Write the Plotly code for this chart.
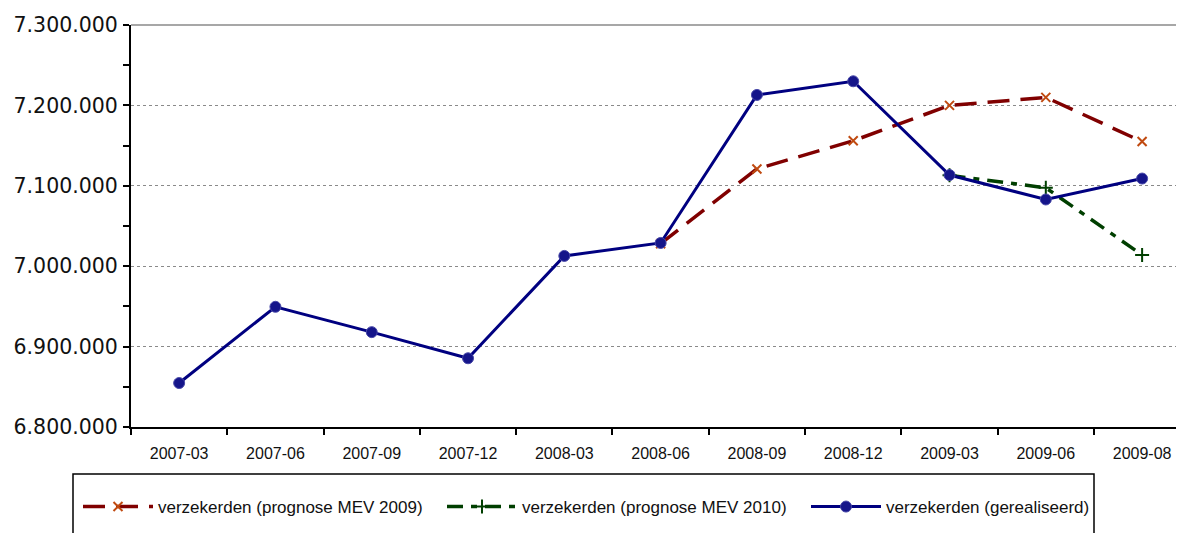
import plotly.graph_objects as go

categories = ["2007-03", "2007-06", "2007-09", "2007-12", "2008-03", "2008-06",
              "2008-09", "2008-12", "2009-03", "2009-06", "2009-08"]
mev2009 = [None, None, None, None, None, 7028000, 7121000, 7156000, 7200000, 7210000, 7155000]
mev2010 = [None, None, None, None, None, None, None, None, 7113000, 7097500, 7014000]
realized = [6854700, 6949500, 6918000, 6885500, 7012800, 7028900, 7213000, 7230000, 7113400, 7083000, 7109000]

names = ["verzekerden (prognose MEV 2009)", "verzekerden (prognose MEV 2010)", "verzekerden (gerealiseerd)"]

OFF = 8  # page body margin
W, H = 1184 - OFF, 533 - OFF
L, R, T = 131 - OFF, 0, 25 - OFF
B = H - (427 - OFF)
PW, PH = W - L - R, H - T - B

def px_x(p):
    return (p - OFF - L) / PW

def px_y(p):
    return (H - B - (p - OFF)) / PH

fig = go.Figure()
fig.add_trace(go.Scatter(
    x=categories, y=mev2009, name=names[0], mode="lines+markers",
    line=dict(color="#800000", width=3.5, dash="22px,11px"),
    marker=dict(symbol="x-thin", size=9, color="#c04a10", line=dict(color="#c04a10", width=2)),
    connectgaps=False))
fig.add_trace(go.Scatter(
    x=categories, y=mev2010, name=names[1], mode="lines+markers",
    line=dict(color="#003f00", width=3.5, dash="16px,8px,6px,8px"),
    marker=dict(symbol="cross-thin", size=10, color="#003f00", line=dict(color="#003f00", width=2)),
    connectgaps=False))
fig.add_trace(go.Scatter(
    x=categories, y=realized, name=names[2], mode="lines+markers",
    line=dict(color="#000080", width=3),
    marker=dict(symbol="circle", size=11, color="#15158a", line=dict(color="#4848a8", width=1))))

# top gridline
fig.add_shape(type="line", xref="paper", yref="paper", x0=0, x1=1, y0=1, y1=1,
              line=dict(color="#8a8a8a", width=1.5), layer="below")
# legend frame
fig.add_shape(type="rect", xref="paper", yref="paper",
              x0=px_x(73), x1=px_x(1094), y0=px_y(474), y1=px_y(560),
              line=dict(color="black", width=1.5), fillcolor="white", layer="below")

fig.update_layout(
    width=W, height=H,
    margin=dict(l=L, r=R, t=T, b=B, autoexpand=False),
    paper_bgcolor="white", plot_bgcolor="white",
    separators=",.",
    showlegend=True,
    legend=dict(orientation="h", x=px_x(78), y=px_y(489), xanchor="left", yanchor="top",
                font=dict(family="Liberation Sans", size=17, color="#111"),
                itemwidth=70, entrywidth=279, entrywidthmode="pixels",
                bgcolor="rgba(0,0,0,0)", borderwidth=0, tracegroupgap=0),
    xaxis=dict(type="category", range=[-0.5, 10.435], tickson="boundaries",
               showline=True, linecolor="black", linewidth=2,
               ticks="outside", ticklen=6, tickcolor="black", tickwidth=1.5,
               showgrid=False, zeroline=False,
               tickfont=dict(family="Liberation Sans", size=16, color="#111"),
               ticklabelstandoff=11),
    yaxis=dict(range=[6800000, 7300000], dtick=100000, tickformat=",.0f",
               showline=True, linecolor="black", linewidth=2,
               ticks="outside", ticklen=6, tickcolor="black", tickwidth=1.5,
               showgrid=True, gridcolor="#8a8a8a", gridwidth=1, griddash="dot",
               zeroline=False,
               minor=dict(dtick=50000, ticks="outside", ticklen=6, tickcolor="black", tickwidth=1.5, showgrid=False),
               tickfont=dict(family="DejaVu Sans", size=20.5, color="#111"),
               ticklabelstandoff=1),
)

fig.write_html("out.html")
